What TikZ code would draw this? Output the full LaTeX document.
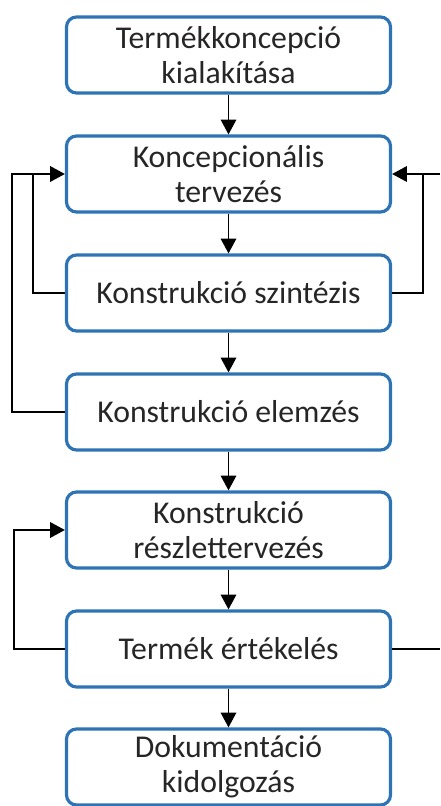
\documentclass[tikz,border=0pt]{standalone}
\usepackage{fontspec}
\setmainfont{Carlito}
\usetikzlibrary{arrows.meta}
\definecolor{boxblue}{HTML}{2E74B5}
\definecolor{txt}{HTML}{262626}
\tikzset{
  stepbox/.style={draw=boxblue, line width=2.4pt, rounded corners=7.5pt, fill=white,
    minimum width=243pt, minimum height=57pt, align=center, text=txt,
    font=\fontsize{23.8}{26.5}\selectfont, inner sep=0pt},
  conn/.style={line width=1.4pt, draw=black},
  arr/.style={conn, -{Triangle[length=11pt,width=11.5pt]}}
}
\begin{document}
\begin{tikzpicture}[x=0.75pt,y=-0.75pt]
\useasboundingbox (0,0) rectangle (440,806);
\node[stepbox] (b1) at (228.5,55) {Termékkoncepció\\kialakítása};
\node[stepbox] (b2) at (228.5,174) {Koncepcionális\\tervezés};
\node[stepbox] (b3) at (228.5,293) {Konstrukció szintézis};
\node[stepbox] (b4) at (228.5,412) {Konstrukció elemzés};
\node[stepbox] (b5) at (228.5,530) {Konstrukció\\részlettervezés};
\node[stepbox] (b6) at (228.5,649) {Termék értékelés};
\node[stepbox] (b7) at (228.5,767) {Dokumentáció\\kidolgozás};
\coordinate (L1) at (12,0);
\coordinate (L2) at (33,0);
\coordinate (L3) at (14,0);
\coordinate (R1) at (423,0);
\coordinate (RE) at (440,0);
\draw[arr] (b1) -- (b2);
\draw[arr] (b2) -- (b3);
\draw[arr] (b3) -- (b4);
\draw[arr] (b4) -- (b5);
\draw[arr] (b5) -- (b6);
\draw[arr] (b6) -- (b7);
\draw[conn] (b3.west) -- (b3.west -| L2) -- (L2 |- b2.west);
\draw[arr] (b4.west) -- (b4.west -| L1) |- (b2.west);
\draw[conn] (b3.east) -- (b3.east -| R1) -- (R1 |- b2.east);
\draw[arr] (RE |- b2.east) -- (b2.east);
\draw[conn] (b6.east) -- (b6.east -| RE);
\draw[arr] (b6.west) -- (b6.west -| L3) |- (b5.west);
\end{tikzpicture}
\end{document}
